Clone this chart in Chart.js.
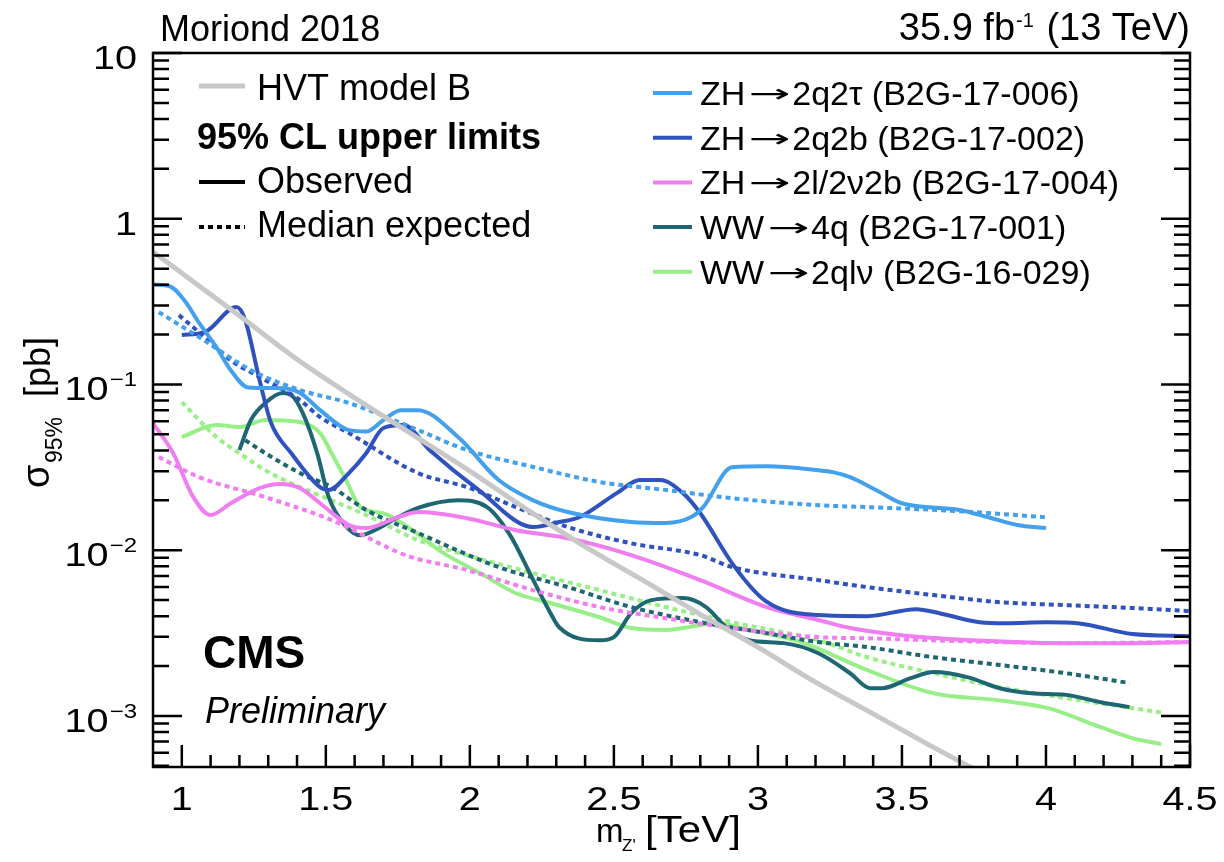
<!DOCTYPE html>
<html>
<head>
<meta charset="utf-8">
<script src="https://cdn.jsdelivr.net/npm/chart.js@4.4.1/dist/chart.umd.min.js"></script>
<style>
  html, body { margin: 0; padding: 0; background: #fff; }
</style>
</head>
<body>
<canvas id="limits" width="1224" height="862"></canvas>
<script>
const FONT = "'Liberation Sans', Arial, Helvetica, sans-serif";
const ARROW_FONT = "'DejaVu Sans', sans-serif";

// axis ticks
const xTicks = [1, 1.5, 2, 2.5, 3, 3.5, 4, 4.5];
const yTicks = [1e-3, 1e-2, 1e-1, 1, 10];
const yTickLabels = [['10', '\u22123'], ['10', '\u22122'], ['10', '\u22121'], ['1', ''], ['10', '']];

// HVT model B
const hvtMass = [0.9, 1.0, 1.2, 1.4, 1.6, 1.8, 2.0, 2.2, 2.4, 2.6, 2.8, 3.0, 3.2, 3.4, 3.6, 3.8];
const hvtXsec = [0.63, 0.47, 0.26, 0.142, 0.083, 0.050, 0.030, 0.0175, 0.0105, 0.0066, 0.0041, 0.0026, 0.0016, 0.00103, 0.00066, 0.00043];

// ZH -> 2q2tau (B2G-17-006)
const zhTauObsMass = [0.9, 0.96, 1.01, 1.06, 1.12, 1.17, 1.23, 1.35, 1.41, 1.48, 1.58, 1.64, 1.7, 1.76, 1.82, 1.96, 2.1, 2.22, 2.34, 2.56, 2.68, 2.77, 2.81, 2.91, 3.03, 3.21, 3.26, 3.32, 3.41, 3.5, 3.7, 3.8, 3.9, 4.0];
const zhTauObs = [0.40, 0.39, 0.32, 0.235, 0.168, 0.122, 0.096, 0.095, 0.089, 0.070, 0.053, 0.052, 0.061, 0.070, 0.070, 0.048, 0.0265, 0.020, 0.017, 0.0148, 0.0146, 0.0159, 0.0182, 0.0317, 0.0321, 0.0304, 0.0296, 0.0276, 0.0231, 0.0192, 0.0175, 0.0158, 0.0142, 0.0136];
const zhTauExpMass = [0.92, 1.06, 1.24, 1.41, 1.58, 1.82, 1.99, 2.22, 2.45, 2.68, 2.91, 3.21, 3.38, 3.7, 4.0];
const zhTauExp = [0.273, 0.193, 0.122, 0.0925, 0.0773, 0.0531, 0.0402, 0.0318, 0.0258, 0.0231, 0.0206, 0.0187, 0.0182, 0.0172, 0.0158];

// ZH -> 2q2b (B2G-17-002)
const zhBbObsMass = [1.0, 1.08, 1.19, 1.22, 1.27, 1.31, 1.38, 1.48, 1.51, 1.58, 1.64, 1.7, 1.77, 1.86, 2.03, 2.22, 2.31, 2.38, 2.51, 2.59, 2.66, 2.74, 2.8, 2.91, 3.01, 3.09, 3.21, 3.38, 3.55, 3.63, 3.77, 3.86, 4.0, 4.11, 4.3, 4.5];
const zhBbObs = [0.199, 0.207, 0.293, 0.245, 0.106, 0.0585, 0.0385, 0.024, 0.0231, 0.0292, 0.0385, 0.0546, 0.0569, 0.0402, 0.0231, 0.0138, 0.0148, 0.0158, 0.0221, 0.0265, 0.0265, 0.0221, 0.0167, 0.00836, 0.00521, 0.00435, 0.00406, 0.0040, 0.00441, 0.00417, 0.00368, 0.00363, 0.00368, 0.00363, 0.00312, 0.00303];
const zhBbExpMass = [0.99, 1.08, 1.17, 1.27, 1.41, 1.48, 1.58, 1.82, 1.99, 2.16, 2.34, 2.56, 2.8, 2.91, 3.21, 3.38, 3.61, 3.84, 4.07, 4.3, 4.5];
const zhBbExp = [0.262, 0.193, 0.140, 0.111, 0.0805, 0.0636, 0.0509, 0.0292, 0.024, 0.0182, 0.0138, 0.011, 0.00934, 0.00791, 0.0066, 0.00599, 0.00536, 0.00486, 0.00466, 0.00448, 0.00429];

// ZH -> 2l/2nu2b (B2G-17-004)
const zhLepObsMass = [0.9, 0.97, 1.04, 1.1, 1.17, 1.27, 1.34, 1.41, 1.48, 1.58, 1.64, 1.75, 1.82, 1.99, 2.16, 2.34, 2.56, 2.8, 3.03, 3.21, 3.32, 3.49, 3.73, 4.07, 4.3, 4.5];
const zhLepObs = [0.0585, 0.0385, 0.0209, 0.0163, 0.0192, 0.0237, 0.0251, 0.0237, 0.0192, 0.0142, 0.0136, 0.0158, 0.017, 0.0156, 0.0132, 0.0118, 0.00934, 0.0066, 0.00454, 0.00379, 0.00339, 0.00308, 0.00287, 0.00275, 0.00275, 0.00279];
const zhLepExpMass = [0.92, 1.06, 1.29, 1.52, 1.78, 1.99, 2.22, 2.45, 2.68, 2.91, 3.21, 3.38, 3.61, 3.84, 4.07, 4.5];
const zhLepExp = [0.0365, 0.0276, 0.0209, 0.0152, 0.0093, 0.00759, 0.00574, 0.00454, 0.00389, 0.00339, 0.00299, 0.00294, 0.00286, 0.00279, 0.00275, 0.00279];

// WW -> 4q (B2G-17-001)
const ww4qObsMass = [1.2, 1.24, 1.29, 1.35, 1.38, 1.42, 1.47, 1.51, 1.56, 1.62, 1.67, 1.75, 1.82, 1.96, 2.06, 2.14, 2.22, 2.28, 2.31, 2.45, 2.5, 2.56, 2.63, 2.74, 2.82, 2.89, 2.97, 3.09, 3.21, 3.32, 3.39, 3.43, 3.53, 3.61, 3.73, 3.84, 3.95, 4.07, 4.19, 4.29];
const ww4qObs = [0.0402, 0.061, 0.0773, 0.0887, 0.0863, 0.0672, 0.0385, 0.0209, 0.0146, 0.0123, 0.0132, 0.0158, 0.018, 0.020, 0.0182, 0.0123, 0.0066, 0.00417, 0.00343, 0.00286, 0.00299, 0.00417, 0.005, 0.00514, 0.00454, 0.00343, 0.00286, 0.00275, 0.00239, 0.00181, 0.00147, 0.00147, 0.00169, 0.00184, 0.00171, 0.00147, 0.00137, 0.00134, 0.00121, 0.00113];
const ww4qExpMass = [1.22, 1.29, 1.41, 1.52, 1.64, 1.82, 2.1, 2.34, 2.56, 2.8, 3.03, 3.21, 3.38, 3.61, 3.84, 4.07, 4.29];
const ww4qExp = [0.0461, 0.0385, 0.0292, 0.024, 0.0175, 0.0127, 0.00791, 0.00599, 0.00454, 0.00368, 0.00316, 0.00279, 0.0026, 0.00226, 0.00203, 0.00181, 0.00158];

// WW -> 2qlnu (B2G-16-029)
const wwLepObsMass = [1.0, 1.12, 1.2, 1.29, 1.41, 1.48, 1.52, 1.57, 1.62, 1.7, 1.82, 1.9, 2.04, 2.16, 2.28, 2.45, 2.56, 2.68, 2.86, 2.97, 3.15, 3.38, 3.61, 3.84, 4.01, 4.19, 4.3, 4.4];
const wwLepObs = [0.0482, 0.0569, 0.0553, 0.061, 0.0593, 0.0509, 0.0385, 0.0265, 0.0182, 0.0167, 0.0125, 0.0098, 0.0072, 0.0055, 0.0048, 0.00394, 0.00339, 0.0033, 0.00363, 0.0033, 0.00279, 0.00189, 0.00137, 0.00124, 0.00111, 0.000855, 0.000735, 0.000676];
const wwLepExpMass = [1.0, 1.12, 1.2, 1.29, 1.41, 1.52, 1.64, 1.82, 1.99, 2.22, 2.45, 2.68, 2.91, 3.21, 3.38, 3.61, 3.84, 4.07, 4.4];
const wwLepExp = [0.0783, 0.0482, 0.0385, 0.0304, 0.024, 0.020, 0.0163, 0.0115, 0.00934, 0.00727, 0.00574, 0.00454, 0.00368, 0.00286, 0.00226, 0.00181, 0.00149, 0.00128, 0.00105];

const analyses = [
  { pre: 'ZH', post: '2q2\u03c4 (B2G-17-006)', color: '#42a0ec', obs: [zhTauObsMass, zhTauObs], exp: [zhTauExpMass, zhTauExp] },
  { pre: 'ZH', post: '2q2b (B2G-17-002)', color: '#2f52bf', obs: [zhBbObsMass, zhBbObs], exp: [zhBbExpMass, zhBbExp] },
  { pre: 'ZH', post: '2l/2\u03bd2b (B2G-17-004)', color: '#f07ef0', obs: [zhLepObsMass, zhLepObs], exp: [zhLepExpMass, zhLepExp] },
  { pre: 'WW', post: '4q (B2G-17-001)', color: '#1f6673', obs: [ww4qObsMass, ww4qObs], exp: [ww4qExpMass, ww4qExp] },
  { pre: 'WW', post: '2ql\u03bd (B2G-16-029)', color: '#98ef88', obs: [wwLepObsMass, wwLepObs], exp: [wwLepExpMass, wwLepExp] },
];

function series(label, mass, xsec, color, dotted, width) {
  return {
    label,
    data: mass.map((m, i) => ({ x: m, y: xsec[i] })),
    borderColor: color,
    borderWidth: width || 4,
    borderDash: dotted ? [5, 4] : [],
    borderCapStyle: 'butt',
    pointRadius: 0,
    fill: false,
    cubicInterpolationMode: 'monotone',
    clip: 0,
  };
}

const datasets = [series('HVT model B', hvtMass, hvtXsec, '#c8c8c8', false, 5)];
analyses.forEach(a => {
  const label = a.pre + '\u2192' + a.post;
  datasets.push(series(label, a.obs[0], a.obs[1], a.color, false));
  datasets.push(series(label + ' exp', a.exp[0], a.exp[1], a.color, true));
});

function put(ctx, str, x, y, size, opts = {}) {
  ctx.save();
  ctx.font = `${opts.style || 'normal'} ${opts.weight || 'normal'} ${size}px ${opts.family || FONT}`;
  ctx.fillStyle = '#000';
  ctx.textAlign = opts.align || 'left';
  ctx.textBaseline = 'alphabetic';
  ctx.translate(x, y);
  if (opts.rot) ctx.rotate(opts.rot);
  if (opts.sx) ctx.scale(opts.sx, 1);
  ctx.fillText(str, 0, 0);
  const w = ctx.measureText(str).width * (opts.sx || 1);
  ctx.restore();
  return w;
}

function measure(ctx, str, size, weight) {
  ctx.save();
  ctx.font = `normal ${weight || 'normal'} ${size}px ${FONT}`;
  const w = ctx.measureText(str).width;
  ctx.restore();
  return w;
}

function sample(ctx, x0, x1, y, color, width, dash) {
  ctx.save();
  ctx.strokeStyle = color;
  ctx.lineWidth = width;
  ctx.setLineDash(dash || []);
  ctx.beginPath();
  ctx.moveTo(x0, y);
  ctx.lineTo(x1, y);
  ctx.stroke();
  ctx.restore();
}

const rootStyle = {
  id: 'rootStyle',
  afterDatasetsDraw(chart) {
    const { ctx, chartArea: a, scales: { x, y } } = chart;
    ctx.save();
    ctx.strokeStyle = '#000';
    ctx.lineWidth = 2.5;
    ctx.strokeRect(a.left, a.top, a.right - a.left, a.bottom - a.top);
    ctx.beginPath();
    for (let e = -4; e <= 1; e++) {
      for (let m = 1; m <= 9; m++) {
        const v = m * Math.pow(10, e);
        if (v < y.min * 0.999 || v > y.max * 1.001) continue;
        const py = y.getPixelForValue(v);
        const len = m === 1 ? 29 : 16;
        ctx.moveTo(a.left, py); ctx.lineTo(a.left + len, py);
        ctx.moveTo(a.right, py); ctx.lineTo(a.right - len, py);
      }
    }
    for (let i = 10; i <= 45; i++) {
      const px = x.getPixelForValue(i / 10);
      const len = i % 5 === 0 ? 22 : 12;
      ctx.moveTo(px, a.bottom); ctx.lineTo(px, a.bottom - len);
    }
    ctx.stroke();
    ctx.restore();

    // tick labels
    const sx = 1.2;
    xTicks.forEach(v => {
      put(ctx, String(v), x.getPixelForValue(v), a.bottom + 43, 33, { align: 'center', sx });
    });
    yTicks.forEach((v, i) => {
      const [base, exp] = yTickLabels[i];
      const py = y.getPixelForValue(v);
      let right = 137;
      if (exp) {
        const w = put(ctx, exp, right, py + 2, 20, { align: 'right', sx });
        right -= w + 1;
      }
      put(ctx, base, right, py + 16, 33, { align: 'right', sx });
    });

    // axis titles
    put(ctx, 'm', 596, 842, 33);
    put(ctx, "Z'", 622, 851, 17);
    put(ctx, '[TeV]', 645, 842, 36, { sx: 1.17 });
    put(ctx, '\u03c3', 49, 488, 38, { rot: -Math.PI / 2 });
    put(ctx, '95%', 62, 463, 23, { rot: -Math.PI / 2 });
    put(ctx, '[pb]', 50, 397, 36, { rot: -Math.PI / 2 });

    // header
    put(ctx, 'Moriond 2018', 160, 41, 36);
    const tail = ' (13 TeV)';
    const wTail = measure(ctx, tail, 38);
    const wSup = measure(ctx, '-1', 20) + 3;
    const wHead = measure(ctx, '35.9 fb', 38);
    const start = a.right - wTail - wSup - wHead;
    put(ctx, '35.9 fb', start, 40, 38);
    put(ctx, '-1', start + wHead + 1, 27, 20);
    put(ctx, tail, start + wHead + wSup, 40, 38);

    // CMS label
    put(ctx, 'CMS', 203, 668, 46, { weight: 'bold' });
    put(ctx, 'Preliminary', 205, 723, 36, { style: 'italic' });

    // left legend
    sample(ctx, 199, 245, 86, '#c8c8c8', 5);
    put(ctx, 'HVT model B', 257, 100, 36);
    put(ctx, '95% CL upper limits', 197, 149, 36, { weight: 'bold' });
    sample(ctx, 199, 245, 182, '#000', 4);
    put(ctx, 'Observed', 257, 193, 36);
    sample(ctx, 199, 245, 227, '#000', 4, [5, 4]);
    put(ctx, 'Median expected', 257, 237, 36);

    // right legend
    analyses.forEach((an, i) => {
      const yy = 105 + i * 44.7;
      sample(ctx, 653, 692, yy - 12, an.color, 4);
      let xx = 700;
      xx += put(ctx, an.pre, xx, yy, 34);
      xx += 3;
      xx += put(ctx, '\u2192', xx, yy - 3, 25, { family: ARROW_FONT, sx: 2.0 });
      xx += 2;
      put(ctx, an.post, xx, yy, 34);
    });
  },
};

new Chart(document.getElementById('limits').getContext('2d'), {
  type: 'line',
  data: { datasets },
  options: {
    responsive: false,
    animation: false,
    devicePixelRatio: 1,
    layout: { padding: { left: 153, right: 34, top: 53, bottom: 95 } },
    plugins: { legend: { display: false }, tooltip: { enabled: false } },
    scales: {
      x: { type: 'linear', min: 0.9, max: 4.5, display: false },
      y: { type: 'logarithmic', min: 4.92e-4, max: 10, display: false },
    },
  },
  plugins: [rootStyle],
});
</script>
</body>
</html>
